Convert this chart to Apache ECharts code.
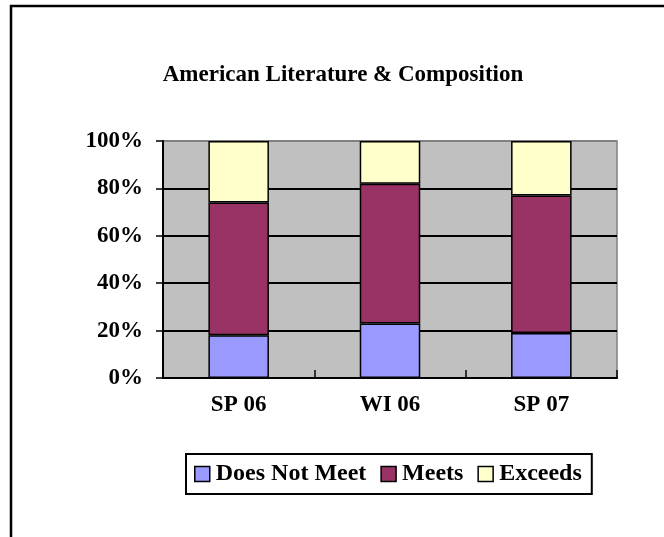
<!DOCTYPE html>
<html>
<head>
<meta charset="utf-8">
<script src="https://cdn.jsdelivr.net/npm/echarts@6/dist/echarts.min.js"></script>
<style>
  html, body { margin: 0; padding: 0; background: #fff; }
  #chart { width: 664px; height: 537px; }
</style>
</head>
<body>
<div id="chart"></div>
<script>
const categories = ["SP 06", "WI 06", "SP 07"];
const doesNotMeet = [18, 23, 19];
const meets = [56, 59, 58];
const exceeds = [26, 18, 23];
const yTicks = [0, 20, 40, 60, 80, 100];

const FONT = "'Liberation Serif', 'Times New Roman', serif";

const chart = echarts.init(document.getElementById("chart"), null, { renderer: "canvas" });

function barSeries(name, data, color) {
	return {
		name: name,
		type: "bar",
		stack: "total",
		data: data,
		barWidth: "40%",
		itemStyle: { color: color, borderColor: "#000", borderWidth: 1.5 }
	};
}

chart.setOption({
	animation: false,
	backgroundColor: "#fff",
	title: {
		text: "American Literature & Composition",
		left: 338,
		top: 59,
		textAlign: "center",
		textStyle: { fontFamily: FONT, fontWeight: "bold", fontSize: 23, color: "#000" }
	},
	legend: {
		left: 186,
		top: 454,
		padding: [8, 10, 8, 8],
		borderColor: "#000",
		borderWidth: 2,
		itemWidth: 15,
		itemHeight: 15,
		itemGap: 14,
		icon: "rect",
		itemStyle: { borderColor: "#000", borderWidth: 1.5 },
		textStyle: { fontFamily: FONT, fontWeight: "bold", fontSize: 24, color: "#000", padding: [0, 0, 0, 1] },
		data: ["Does Not Meet", "Meets", "Exceeds"]
	},
	grid: {
		left: 163,
		right: 47,
		top: 141,
		bottom: 159,
		show: true,
		backgroundColor: "#C0C0C0",
		borderColor: "#808080",
		borderWidth: 1.5
	},
	xAxis: {
		type: "category",
		data: categories,
		axisLine: { lineStyle: { color: "#000", width: 2 } },
		axisTick: { show: true, inside: true, length: 8, lineStyle: { color: "#000", width: 1.5 } },
		axisLabel: { fontFamily: FONT, fontWeight: "bold", fontSize: 23, color: "#000", margin: 16 }
	},
	yAxis: {
		type: "value",
		min: yTicks[0],
		max: yTicks[yTicks.length - 1],
		interval: 20,
		axisLine: { show: true, lineStyle: { color: "#000", width: 2 } },
		axisTick: { show: true, length: 7, lineStyle: { color: "#000", width: 1.5 } },
		axisLabel: {
			fontFamily: FONT, fontWeight: "bold", fontSize: 23, color: "#000", margin: 20,
			formatter: v => v + "%"
		},
		splitLine: {
			show: true,
			lineStyle: { color: ["#000", "#000", "#000", "#000", "#000", "#808080"], width: 2 }
		}
	},
	series: [
		barSeries("Does Not Meet", doesNotMeet, "#9999FF"),
		barSeries("Meets", meets, "#993366"),
		barSeries("Exceeds", exceeds, "#FFFFCC")
	],
	graphic: [
		{ type: "polyline", shape: { points: [[11, 537], [11, 6], [664, 6]] },
		  style: { stroke: "#000", lineWidth: 2.5, fill: null } }
	]
});
</script>
</body>
</html>
